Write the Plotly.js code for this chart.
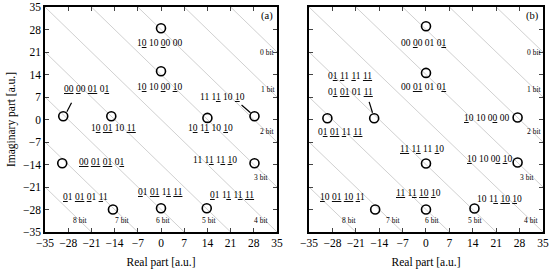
<!DOCTYPE html>
<html>
<head>
<meta charset="utf-8">
<script src="https://cdn.plot.ly/plotly-3.0.1.min.js"></script>
<style>
  body { margin: 0; background: #fff; }
  #graphDiv { width: 550px; height: 273px; }
</style>
</head>
<body>
<div id="graphDiv"></div>
<script>
// constellation points, panel (a)
const pointsAX = [0, 0, -29.5, -15, 14, 28.2, -29.8, 28.2, -14.5, 0, 13.8];
const pointsAY = [28.4, 15, 1, 1, 0.5, 1, -13.6, -13.6, -28, -27.6, -27.6];
// panel (b)
const pointsBX = [0, 0, -29.5, -15.5, 27.4, 0, 27.4, -15.2, 0, 14.5];
const pointsBY = [29, 14.5, 0.4, 0.4, 0.6, -13.7, -13.4, -28, -28, -27.7];

// bit-pattern labels
const labelsA = [
    "1<u>0</u> 10 <u>0</u>0 00", "1<u>0</u> 10 <u>0</u>0 <u>1</u>0", "<u>00</u> <u>0</u>0 <u>01</u> 0<u>1</u>",
    "11 1<u>1</u> 10 <u>1</u>0", "1<u>0</u> <u>01</u> 10 <u>11</u>", "1<u>0</u> 1<u>1</u> 10 <u>1</u>0",
    "<u>00</u> <u>01</u> <u>01</u> 0<u>1</u>", "11 1<u>1</u> 1<u>1</u> <u>1</u>0", "<u>0</u>1 <u>01</u> <u>0</u>1 <u>1</u>1",
    "<u>0</u>1 <u>01</u> 1<u>1</u> <u>11</u>", "<u>0</u>1 1<u>1</u> 1<u>1</u> <u>11</u>"
];
const labelsAX = [-0.5, -0.5, -22.4, 18.6, -14.4, 14.8, -17.9, 16.3, -22.9, -0.3, 21.3];
const labelsAY = [23.7, 10, 9.4, 7.1, -2.5, -2.5, -13.2, -12.7, -24.1, -22.5, -23.6];

const labelsB = [
    "00 <u>0</u>0 01 0<u>1</u>", "00 <u>01</u> 01 0<u>1</u>", "0<u>1</u> <u>1</u>1 <u>1</u>1 <u>11</u>",
    "0<u>1</u> <u>01</u> 01 <u>11</u>", "<u>1</u>0 10 0<u>0</u> 00", "0<u>1</u> <u>01</u> <u>1</u>1 <u>11</u>",
    "<u>11</u> 1<u>1</u> 11 <u>1</u>0", "<u>1</u>0 10 0<u>0</u> <u>1</u>0", "<u>11</u> 1<u>1</u> <u>10</u> <u>1</u>0",
    "<u>1</u>0 <u>01</u> <u>10</u> <u>1</u>1", "10 1<u>1</u> <u>10</u> <u>1</u>0"
];
const labelsBX = [-0.8, -0.8, -22.7, -22.7, 18.2, -25.7, -1.3, 19.1, -2.3, -24.9, 22.1];
const labelsBY = [23.7, 10, 13.5, 8.6, 0.6, -3.8, -9.3, -12.4, -23, -24.1, -24.6];

// bit-count region labels
const bitText = ["0 bit", "1 bit", "2 bit", "3 bit", "4 bit", "5 bit", "6 bit", "7 bit", "8 bit"];
const bitAX = [31.9, 32.3, 32.0, 30.2, 30.2, 14.5, 0.5, -11.9, -24.4];
const bitBX = [32.4, 32.4, 32.4, 30.1, 31.4, 14.7, 1.7, -9.8, -22.9];
const bitY = [20.8, 9.4, -3.8, -17.9, -31.4, -31.4, -31.4, -31.4, -31.4];

// boundary lines x + y = c
const boundaries = [-56, -42, -28, -14, 0, 14, 28, 42, 56];

// leader lines [x0, y0, x1, y1]
const leadersA = [[-27, 5.2, -28.4, 2.4], [24.3, 4.5, 27, 2.1]];
const leadersB = [[-17, 5.5, -16, 2.1]];

const tickVals = [-35, -28, -21, -14, -7, 0, 7, 14, 21, 28, 35];
const serif = "Liberation Serif, Times New Roman, serif";

const traces = [];
["x", "x2"].forEach((xa, i) => {
    const ya = i === 0 ? "y" : "y2";
    boundaries.forEach((c) => {
        traces.push({
            x: [-35, 35], y: [c + 35, c - 35], xaxis: xa, yaxis: ya,
            mode: "lines", line: { color: "#bcbcbc", width: 0.7 },
            hoverinfo: "skip", showlegend: false
        });
    });
});
traces.push({
    x: pointsAX, y: pointsAY, xaxis: "x", yaxis: "y", mode: "markers",
    marker: { symbol: "circle-open", size: 9, color: "#000", line: { width: 1.6 } }, showlegend: false
});
traces.push({
    x: pointsBX, y: pointsBY, xaxis: "x2", yaxis: "y2", mode: "markers",
    marker: { symbol: "circle-open", size: 9, color: "#000", line: { width: 1.6 } }, showlegend: false
});

const annotations = [];
labelsA.forEach((t, i) => annotations.push({ x: labelsAX[i], y: labelsAY[i], xref: "x", yref: "y", text: t, showarrow: false, font: { family: serif, size: 9.5, color: "#000" } }));
labelsB.forEach((t, i) => annotations.push({ x: labelsBX[i], y: labelsBY[i], xref: "x2", yref: "y2", text: t, showarrow: false, font: { family: serif, size: 9.5, color: "#000" } }));
bitText.forEach((t, i) => {
    annotations.push({ x: bitAX[i], y: bitY[i], xref: "x", yref: "y", text: t, showarrow: false, font: { family: serif, size: 7.5, color: "#000" } });
    annotations.push({ x: bitBX[i], y: bitY[i], xref: "x2", yref: "y2", text: t, showarrow: false, font: { family: serif, size: 7.5, color: "#000" } });
});
annotations.push({ x: 32, y: 32.3, xref: "x", yref: "y", text: "(a)", showarrow: false, font: { family: serif, size: 10.5, color: "#000" } });
annotations.push({ x: 32, y: 32.3, xref: "x2", yref: "y2", text: "(b)", showarrow: false, font: { family: serif, size: 10.5, color: "#000" } });

const shapes = [];
leadersA.forEach((l) => shapes.push({ type: "line", xref: "x", yref: "y", x0: l[0], y0: l[1], x1: l[2], y1: l[3], line: { color: "#000", width: 1.2 } }));
leadersB.forEach((l) => shapes.push({ type: "line", xref: "x2", yref: "y2", x0: l[0], y0: l[1], x1: l[2], y1: l[3], line: { color: "#000", width: 1.2 } }));

const axisBase = {
    range: [-35, 35], tickvals: tickVals, ticks: "inside", ticklen: 4, tickwidth: 1,
    showline: true, linewidth: 1.6, linecolor: "#000", mirror: "allticks",
    showgrid: false, zeroline: false, tickfont: { family: serif, size: 11.5, color: "#000" }
};

const layout = {
    width: 550, height: 273,
    margin: { l: 45, r: 7, t: 7, b: 41 },
    paper_bgcolor: "#fff", plot_bgcolor: "#fff",
    font: { family: serif, color: "#000" },
    xaxis: { ...axisBase, domain: [0, 0.4659], anchor: "y", title: { text: "Real part [a.u.]", font: { family: serif, size: 11.5 }, standoff: 9 } },
    yaxis: { ...axisBase, domain: [0, 1], anchor: "x", title: { text: "Imaginary part [a.u.]", font: { family: serif, size: 11.5 }, standoff: 5 } },
    xaxis2: { ...axisBase, domain: [0.5301, 1], anchor: "y2", title: { text: "Real part [a.u.]", font: { family: serif, size: 11.5 }, standoff: 9 } },
    yaxis2: { ...axisBase, domain: [0, 1], anchor: "x2", showticklabels: false },
    annotations: annotations,
    shapes: shapes,
    showlegend: false
};

Plotly.newPlot("graphDiv", traces, layout, { staticPlot: true });
</script>
</body>
</html>
